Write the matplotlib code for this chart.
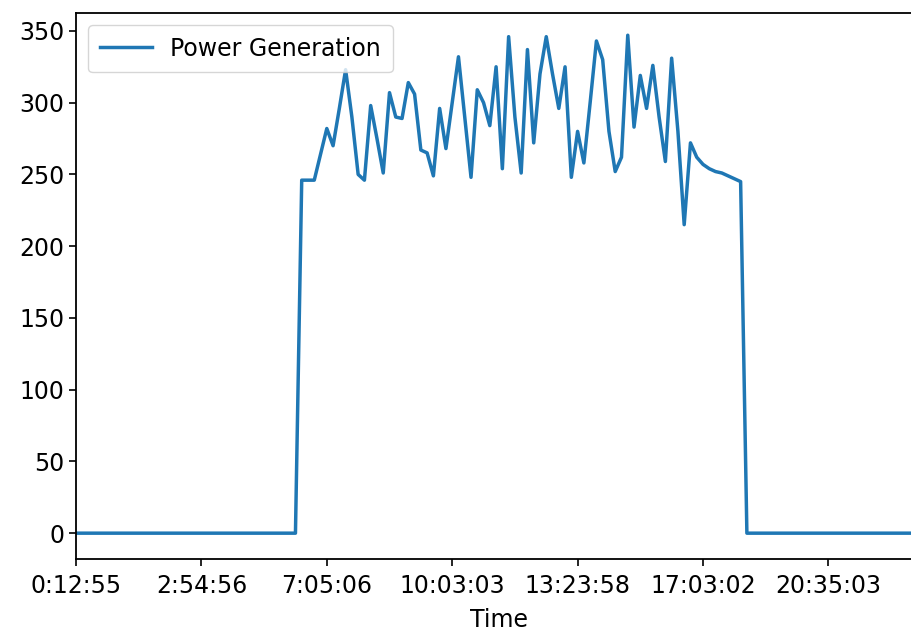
import matplotlib
matplotlib.use("Agg")
import matplotlib.pyplot as plt
from matplotlib.ticker import FixedLocator, FixedFormatter

# power output per reading, night readings are zero
night_before = [0] * 36
daytime = [
    246, 246, 246, 264, 282, 270, 296, 323, 290, 250,
    246, 298, 275, 251, 307, 290, 289, 314, 306, 267,
    265, 249, 296, 268, 300, 332, 290, 248, 309, 300,
    284, 325, 254, 346, 290, 251, 337, 272, 320, 346,
    320, 296, 325, 248, 280, 258, 300, 343, 330, 280,
    252, 262, 347, 283, 319, 296, 326, 290, 259, 331,
    280, 215, 272, 262, 257, 254, 252, 251, 249, 247,
    245,
]
night_after = [0] * 29
power = night_before + daytime + night_after

tick_pos = [0, 20, 40, 60, 80, 100, 120]
tick_labels = ["0:12:55", "2:54:56", "7:05:06", "10:03:03",
               "13:23:58", "17:03:02", "20:35:03"]

fig = plt.figure(figsize=(9.12, 6.34), dpi=100)
n = len(power)
ax = fig.add_axes([76 / 912, 0.1183, (n - 1) * 6.27 / 912, 0.8612])

ax.plot(range(n), power, color="#1f77b4", linewidth=2.5, label="Power Generation")
ax.set_xlim(0, n - 1)
ax.set_ylim(-18, 362.5)

ax.xaxis.set_major_locator(FixedLocator(tick_pos))
ax.xaxis.set_major_formatter(FixedFormatter(tick_labels))
ax.set_yticks([0, 50, 100, 150, 200, 250, 300, 350])

ax.tick_params(labelsize=17, length=5, width=1.2)
ax.tick_params(axis="x", pad=6)
ax.set_xlabel("Time", fontsize=17, labelpad=7)
for s in ax.spines.values():
    s.set_linewidth(1.3)

ax.legend(loc="upper left", fontsize=17, handlelength=2.2, borderpad=0.5)

fig.savefig("out.png", dpi=100)
